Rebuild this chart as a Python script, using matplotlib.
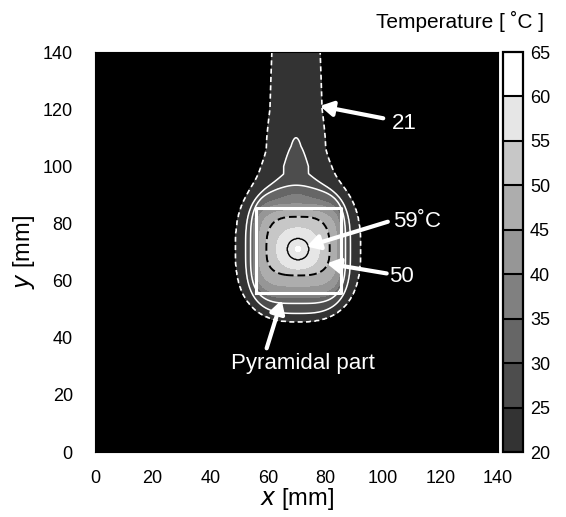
import numpy as np
import matplotlib
matplotlib.use("Agg")
import matplotlib.pyplot as plt
from matplotlib.colors import ListedColormap, BoundaryNorm
from matplotlib.cm import ScalarMappable

plt.rcParams["font.family"] = ["Liberation Sans", "DejaVu Sans"]

# colour bar
cbar_levels = [20, 25, 30, 35, 40, 45, 50, 55, 60, 65]
band_grays = ["0.2", "0.3", "0.4", "0.5", "0.59", "0.68", "0.78", "0.9", "1.0"]

# heated bulb: isotherm sizes (mm from the centre)
bulb_center = (70.5, 71.0)
bulb_T = [20, 21, 25, 30, 35, 40, 45, 50, 55, 59, 61]
bulb_half_w = [30.0, 21.7, 18.2, 16.5, 15.6, 14.8, 13.5, 11.0, 7.5, 3.8, 0.5]
bulb_half_up = [36.0, 26.5, 22.5, 20.5, 17.0, 15.5, 13.5, 11.4, 7.5, 3.8, 0.5]
bulb_half_down = [33.0, 25.4, 22.5, 19.0, 17.0, 15.5, 13.0, 9.2, 7.0, 3.8, 0.5]
bulb_shape = [2.5, 2.6, 3.0, 3.5, 4.0, 4.0, 3.5, 3.0, 2.2, 2.0, 2.0]

# stem (cable) going up: excess temperature on its axis
stem_x = 69.8
stem_width = 8.0
stem_y = [85, 92, 100, 110, 120, 140]
stem_excess = [0.0, 4.5, 5.8, 5.0, 3.6, 3.0]

# pyramidal part outline
pyramid_x = [55.8, 85.3]
pyramid_y = [55.5, 85.5]

ticks = [0, 20, 40, 60, 80, 100, 120, 140]


def bulb_field(X, Y):
    dx = np.abs(X - bulb_center[0])
    dy = Y - bulb_center[1]
    s_all = []
    for a, bu, bd, p in zip(bulb_half_w, bulb_half_up, bulb_half_down, bulb_shape):
        b = np.where(dy >= 0, bu, bd)
        s_all.append(((dx / a) ** p + (np.abs(dy) / b) ** p) ** (1.0 / p))
    T = np.full(X.shape, float(bulb_T[0]))
    for i in range(len(bulb_T) - 1):
        s0, s1 = s_all[i], s_all[i + 1]
        inside = (s0 <= 1) & (s1 > 1)
        frac = (1 - s0) / np.maximum(s1 - s0, 1e-9)
        T = np.where(inside, bulb_T[i] + frac * (bulb_T[i + 1] - bulb_T[i]), T)
    T = np.where(s_all[-1] <= 1, bulb_T[-1], T)
    return T


x = np.linspace(0, 140, 561)
y = np.linspace(0, 140, 561)
X, Y = np.meshgrid(x, y)
T = bulb_field(X, Y) + np.interp(Y, stem_y, stem_excess) * np.exp(-((X - stem_x) / stem_width) ** 2)

fig = plt.figure(figsize=(5.66, 5.17), dpi=100)
ax = fig.add_axes([0.168, 0.1257, 0.712, 0.7737])
ax.set_facecolor("black")

fill_levels = [19, 21, 25, 30, 35, 40, 45, 50, 55, 60, 65]
ax.contourf(X, Y, T, levels=fill_levels, colors=["black"] + band_grays)
ax.contour(X, Y, T, levels=[21], colors="white", linewidths=1.2, linestyles=[(0, (3, 2))])
ax.contour(X, Y, T, levels=[25, 30], colors="white", linewidths=1.1)
ax.contour(X, Y, T, levels=[50], colors="black", linewidths=1.4, linestyles=[(0, (4, 2))])
ax.contour(X, Y, T, levels=[59], colors="black", linewidths=1.0)

ax.plot([pyramid_x[0], pyramid_x[1], pyramid_x[1], pyramid_x[0], pyramid_x[0]],
        [pyramid_y[0], pyramid_y[0], pyramid_y[1], pyramid_y[1], pyramid_y[0]],
        color="white", lw=2.2)

arrow = dict(arrowstyle="-|>,head_length=0.7,head_width=0.4", color="white",
             lw=3, shrinkA=0, shrinkB=0, mutation_scale=11)
ax.annotate("", xy=(78.1, 121.1), xytext=(100.1, 116.8), arrowprops=arrow)
ax.annotate("", xy=(73.5, 71.9), xytext=(101.7, 80.6), arrowprops=arrow)
ax.annotate("", xy=(80.5, 66.0), xytext=(101.3, 62.5), arrowprops=arrow)
ax.annotate("", xy=(64.8, 53.2), xytext=(59.6, 36.3), arrowprops=arrow)

ax.text(103, 115, "21", color="white", fontsize=16, va="center", ha="left")
ax.text(103.5, 80.8, "59˚C", color="white", fontsize=16, va="center", ha="left")
ax.text(102, 61.4, "50", color="white", fontsize=16, va="center", ha="left")
ax.text(72.3, 31, "Pyramidal part", color="white", fontsize=16, va="center", ha="center")

ax.set_xlim(0, 140)
ax.set_ylim(0, 140)
ax.set_xticks(ticks)
ax.set_yticks(ticks)
ax.tick_params(length=0, labelsize=13)
ax.tick_params(axis="x", pad=13)
ax.tick_params(axis="y", pad=16)
ax.set_xlabel("$x$ [mm]", fontsize=17, labelpad=-1)
ax.set_ylabel("$y$ [mm]", fontsize=17, labelpad=4)

cax = fig.add_axes([0.889, 0.1257, 0.035, 0.7737])
sm = ScalarMappable(norm=BoundaryNorm(cbar_levels, len(band_grays)), cmap=ListedColormap(band_grays))
cbar = fig.colorbar(sm, cax=cax, ticks=cbar_levels, drawedges=True)
cbar.outline.set_linewidth(1.6)
cbar.dividers.set_linewidth(1.5)
cbar.ax.tick_params(length=0, labelsize=13, pad=5)
fig.text(0.813, 0.958, "Temperature [ ˚C ]", fontsize=15, ha="center", va="center")

fig.savefig("out.png", dpi=100)
